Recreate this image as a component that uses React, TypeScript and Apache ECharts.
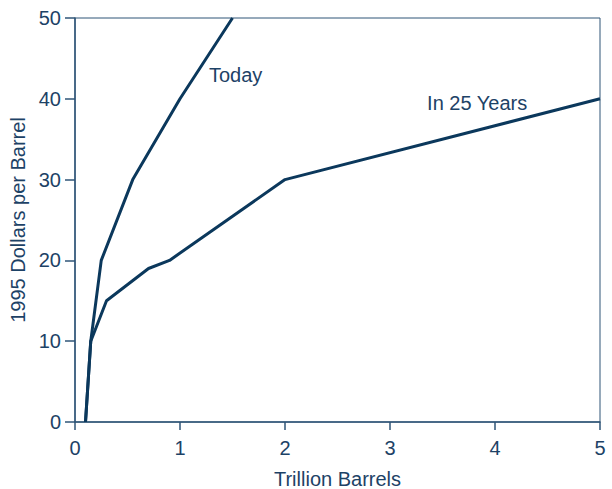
import React, { useEffect, useRef } from "react";
import * as echarts from "echarts";

const todayX = [0.1, 0.15, 0.25, 0.55, 1.0, 1.5];
const todayY = [0, 10, 20, 30, 40, 50];
const futureX = [0.1, 0.15, 0.3, 0.7, 0.9, 2.0, 5.0];
const futureY = [0, 10, 15, 19, 20, 30, 40];
const xTicks = [0, 1, 2, 3, 4, 5];
const yTicks = [0, 10, 20, 30, 40, 50];
const todayLabel = { text: "Today", at: [1.53, 42.9] };
const futureLabel = { text: "In 25 Years", at: [3.83, 39.5] };

const LINE = "#0b385c";
const AXIS = "#2f5577";
const TEXT = "#1d4266";
const FONT = "Liberation Sans, Arial, Helvetica, sans-serif";
const FS = 20;

export default function App() {
  const ref = useRef<HTMLDivElement>(null);
  useEffect(() => {
    const chart = echarts.init(ref.current!, undefined, { renderer: "svg" });
    const pair = (xs: number[], ys: number[]) => xs.map((x, i) => [x, ys[i]]);
    const labelPoint = (l: { text: string; at: number[] }) => ({
      coord: l.at,
      symbol: "circle",
      symbolSize: 0,
      label: {
        show: true,
        position: "inside",
        formatter: l.text,
        color: TEXT,
        fontSize: FS,
        fontFamily: FONT,
      },
    });
    chart.setOption({
      animation: false,
      backgroundColor: "#ffffff",
      grid: {
        left: 75,
        right: 12,
        top: 18,
        bottom: 67,
        containLabel: false,
        outerBoundsMode: "none",
        show: true,
        borderColor: AXIS,
        borderWidth: 1,
        backgroundColor: "transparent",
      },
      xAxis: {
        type: "value",
        min: xTicks[0],
        max: xTicks[xTicks.length - 1],
        interval: 1,
        name: "Trillion Barrels",
        nameLocation: "middle",
        nameGap: 47,
        nameTextStyle: { color: TEXT, fontSize: FS, fontFamily: FONT },
        axisLine: { show: true, lineStyle: { color: AXIS, width: 1.5 } },
        axisTick: { show: true, length: 8, lineStyle: { color: AXIS, width: 1.5 } },
        axisLabel: { color: TEXT, fontSize: FS, fontFamily: FONT, margin: 16 },
        splitLine: { show: false },
      },
      yAxis: {
        type: "value",
        min: yTicks[0],
        max: yTicks[yTicks.length - 1],
        interval: 10,
        name: "1995 Dollars per Barrel",
        nameLocation: "middle",
        nameGap: 36,
        nameTextStyle: { color: TEXT, fontSize: FS, fontFamily: FONT },
        axisLine: { show: true, lineStyle: { color: AXIS, width: 1.5 } },
        axisTick: { show: true, length: 10, lineStyle: { color: AXIS, width: 1.5 } },
        axisLabel: { color: TEXT, fontSize: FS, fontFamily: FONT, margin: 14 },
        splitLine: { show: false },
      },
      series: [
        {
          type: "line",
          name: "Today",
          data: pair(todayX, todayY),
          showSymbol: false,
          lineStyle: { color: LINE, width: 3 },
          markPoint: { silent: true, data: [labelPoint(todayLabel)] },
        },
        {
          type: "line",
          name: "In 25 Years",
          data: pair(futureX, futureY),
          showSymbol: false,
          lineStyle: { color: LINE, width: 3 },
          markPoint: { silent: true, data: [labelPoint(futureLabel)] },
        },
      ],
    });
    return () => chart.dispose();
  }, []);
  return (
    <div
      ref={ref}
      style={{ position: "absolute", left: 0, top: 0, width: 612, height: 489 }}
    />
  );
}
